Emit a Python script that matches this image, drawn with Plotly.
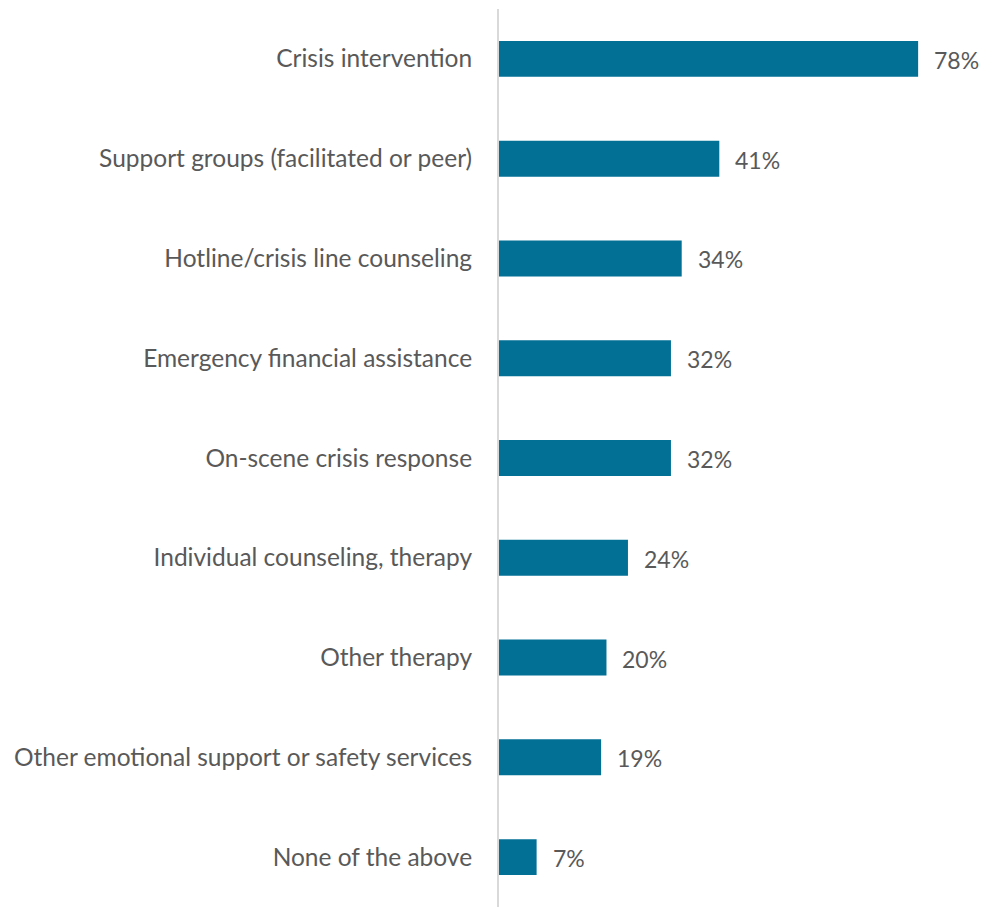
import plotly.graph_objects as go

# Services offered, share of respondents (%)
categories = [
    "Crisis intervention",
    "Support groups (facilitated or peer)",
    "Hotline/crisis line counseling",
    "Emergency financial assistance",
    "On-scene crisis response",
    "Individual counseling, therapy",
    "Other therapy",
    "Other emotional support or safety services",
    "None of the above",
]
values = [78, 41, 34, 32, 32, 24, 20, 19, 7]

BAR_COLOR = "#026f94"
TEXT_COLOR = "#595959"
FONT = "Lato, Carlito, Calibri, sans-serif"
LABEL_SIZE = 24.5
VALUE_SIZE = 23

fig = go.Figure(
    go.Bar(
        x=values,
        y=categories,
        orientation="h",
        marker=dict(color=BAR_COLOR, line=dict(width=0)),
        hoverinfo="skip",
    )
)

# value labels to the right of each bar
for cat, val in zip(categories, values):
    fig.add_annotation(
        x=val, y=cat, text=f"{val}%", showarrow=False,
        xanchor="left", yanchor="middle", xshift=14, yshift=-1,
        font=dict(family=FONT, size=VALUE_SIZE, color=TEXT_COLOR),
    )

fig.update_layout(
    width=981, height=907,
    margin=dict(l=499, r=0, t=9, b=0),
    paper_bgcolor="white", plot_bgcolor="white",
    bargap=0.64,
    showlegend=False,
    font=dict(family=FONT, size=LABEL_SIZE, color=TEXT_COLOR),
)
fig.update_xaxes(range=[0, 89.7], visible=False, fixedrange=True)
fig.update_yaxes(
    autorange="reversed",
    showgrid=False, zeroline=False,
    showline=True, linecolor="#d9d9d9", linewidth=2,
    ticks="", ticklabelstandoff=20,
    tickfont=dict(family=FONT, size=LABEL_SIZE, color=TEXT_COLOR),
    fixedrange=True,
)

fig.write_html("out.html")
